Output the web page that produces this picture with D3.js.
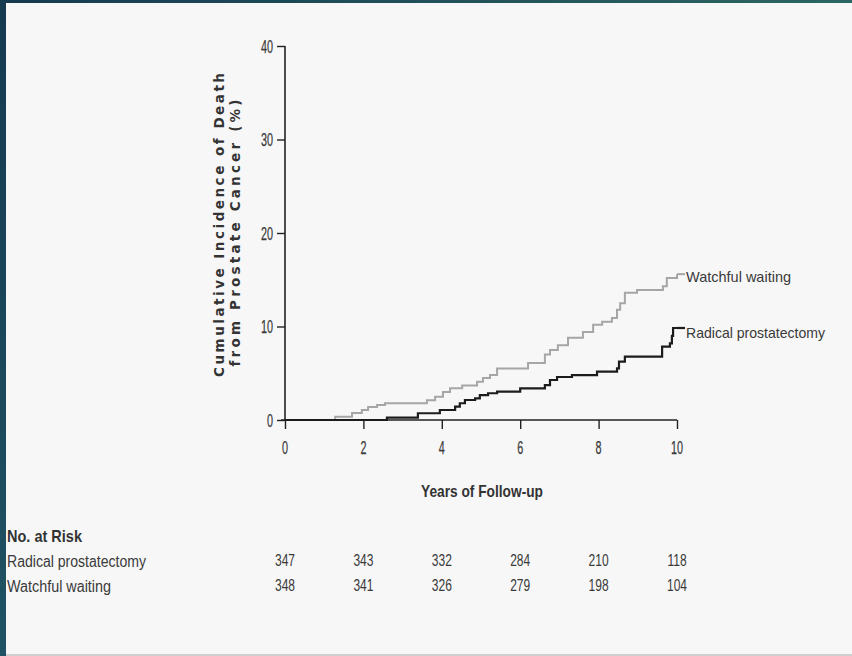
<!DOCTYPE html>
<html>
<head>
<meta charset="utf-8">
<script src="https://cdn.jsdelivr.net/npm/d3@7"></script>
<style>
  html, body { margin: 0; padding: 0; background: #1b4a5a; }
  svg { display: block; }
</style>
</head>
<body>
<svg id="chart" width="852" height="656"></svg>
<script>
// ---- Data ----
const xTicks = [0, 2, 4, 6, 8, 10];
const yTicks = [0, 10, 20, 30, 40];

const watchfulYears = [0, 1.28, 1.71, 1.96, 2.12, 2.35, 2.55, 3.62, 3.83, 4.03, 4.21, 4.52, 4.90, 5.05, 5.23, 5.41, 6.20, 6.63, 6.76, 6.96, 7.22, 7.60, 7.86, 8.09, 8.34, 8.47, 8.55, 8.67, 8.98, 9.64, 9.74, 10.0];
const watchfulPct   = [0, 0.35, 0.75, 1.07, 1.4, 1.6, 1.8, 2.1, 2.5, 3.0, 3.4, 3.7, 4.1, 4.5, 4.8, 5.5, 6.1, 7.0, 7.5, 8.0, 8.8, 9.4, 10.2, 10.5, 10.9, 11.8, 12.5, 13.6, 13.9, 14.3, 15.2, 15.6];

const radicalYears = [0, 2.60, 3.39, 3.95, 4.34, 4.46, 4.59, 4.85, 4.97, 5.18, 5.41, 6.00, 6.63, 6.76, 6.94, 7.32, 7.96, 8.47, 8.52, 8.67, 9.62, 9.82, 9.87, 9.90, 10.0];
const radicalPct   = [0, 0.25, 0.72, 1.07, 1.42, 1.79, 2.14, 2.32, 2.67, 2.86, 3.03, 3.39, 3.74, 4.28, 4.6, 4.81, 5.17, 5.53, 6.24, 6.77, 7.84, 8.2, 9.0, 9.84, 9.84];

const seriesNames = ["Radical prostatectomy", "Watchful waiting"];
const atRiskRadical  = [347, 343, 332, 284, 210, 118];
const atRiskWatchful = [348, 341, 326, 279, 198, 104];

// ---- Layout ----
const svg = d3.select("#chart");
const W = 852, H = 656;
const FONT = '"Liberation Sans", Arial, sans-serif';
const TXT = "#3a3a3a";

// condense text horizontally (the original uses a condensed typeface)
function condense(sel, factor) {
  sel.each(function () {
    const L = this.getComputedTextLength();
    d3.select(this).attr("textLength", L * factor).attr("lengthAdjust", "spacingAndGlyphs");
  });
}

const defs = svg.append("defs");
const grad = defs.append("linearGradient").attr("id", "frame").attr("x1", "0").attr("y1", "0").attr("x2", "1").attr("y2", "0");
grad.append("stop").attr("offset", "0").attr("stop-color", "#163a50");
grad.append("stop").attr("offset", "1").attr("stop-color", "#2c6763");
const gradV = defs.append("linearGradient").attr("id", "frameV").attr("x1", "0").attr("y1", "0").attr("x2", "0").attr("y2", "1");
gradV.append("stop").attr("offset", "0").attr("stop-color", "#163a50");
gradV.append("stop").attr("offset", "1").attr("stop-color", "#1f5363");

svg.append("rect").attr("width", W).attr("height", H).attr("fill", "url(#frame)");
svg.append("rect").attr("x", 0).attr("y", 0).attr("width", 7).attr("height", H).attr("fill", "url(#frameV)");
svg.append("rect").attr("x", 6).attr("y", 3).attr("width", W - 6).attr("height", H - 5).attr("fill", "#f7f7f7");
svg.append("rect").attr("x", 6).attr("y", H - 2).attr("width", W - 6).attr("height", 2).attr("fill", "#cfcfcf");

const x = d3.scaleLinear().domain([0, 10]).range([285, 677]);
const y = d3.scaleLinear().domain([0, 40]).range([420, 46]);

const g = svg.append("g");

// Axes (lines from d3 axis, labels drawn separately for font control)
const yAxis = g.append("g").attr("transform", `translate(${x(0)},0)`)
  .call(d3.axisLeft(y).tickValues(yTicks).tickSize(8).tickFormat(""));
const xAxis = g.append("g").attr("transform", `translate(0,${y(0)})`)
  .call(d3.axisBottom(x).tickValues(xTicks).tickSize(9).tickFormat(""));

[yAxis, xAxis].forEach(a => {
  a.select(".domain").attr("stroke", "#222").attr("stroke-width", 1.6);
  a.selectAll(".tick line").attr("stroke", "#222").attr("stroke-width", 1.4);
  a.selectAll(".tick text").remove();
});
xAxis.select(".domain").attr("d", `M${x(0) - 4},0H${x(10)}`);
yAxis.select(".domain").attr("d", `M0,${y(40)}H0V${y(0)}`);

const yLab = g.selectAll(".ylab").data(yTicks).enter().append("text")
  .attr("x", x(0) - 12).attr("y", d => y(d) + 6.5).attr("text-anchor", "end")
  .attr("fill", TXT).attr("stroke", TXT).attr("stroke-width", 0.25)
  .attr("font-family", FONT).attr("font-size", 18).text(d => d);
const xLab = g.selectAll(".xlab").data(xTicks).enter().append("text")
  .attr("x", d => x(d)).attr("y", y(0) + 34).attr("text-anchor", "middle")
  .attr("fill", TXT).attr("stroke", TXT).attr("stroke-width", 0.25)
  .attr("font-family", FONT).attr("font-size", 18).text(d => d);
condense(yLab, 0.6);
condense(xLab, 0.6);

// Curves
const line = d3.line().x(d => x(d[0])).y(d => y(d[1])).curve(d3.curveStepAfter);
const watchful = watchfulYears.map((v, i) => [v, watchfulPct[i]]);
const radical = radicalYears.map((v, i) => [v, radicalPct[i]]);

g.append("path").datum(watchful).attr("d", line)
  .attr("fill", "none").attr("stroke", "#a6a6a6").attr("stroke-width", 2);
g.append("path").datum(radical).attr("d", line)
  .attr("fill", "none").attr("stroke", "#1c1c1c").attr("stroke-width", 2.2);

// End labels with short connectors
const lastW = watchful[watchful.length - 1], lastR = radical[radical.length - 1];
g.append("line").attr("x1", x(lastW[0])).attr("x2", x(lastW[0]) + 8)
  .attr("y1", y(lastW[1])).attr("y2", y(lastW[1])).attr("stroke", "#a6a6a6").attr("stroke-width", 2);
g.append("line").attr("x1", x(lastR[0])).attr("x2", x(lastR[0]) + 8)
  .attr("y1", y(lastR[1])).attr("y2", y(lastR[1])).attr("stroke", "#1c1c1c").attr("stroke-width", 2.2);
g.append("text").attr("x", x(lastW[0]) + 9).attr("y", y(lastW[1]) + 8)
  .attr("font-family", FONT).attr("font-size", 15).attr("fill", TXT)
  .attr("textLength", 105).attr("lengthAdjust", "spacingAndGlyphs").text(seriesNames[1]);
g.append("text").attr("x", x(lastR[0]) + 9).attr("y", y(lastR[1]) + 10)
  .attr("font-family", FONT).attr("font-size", 15).attr("fill", TXT)
  .attr("textLength", 139).attr("lengthAdjust", "spacingAndGlyphs").text(seriesNames[0]);

// Axis titles
const TFONT = '"DejaVu Sans", Verdana, sans-serif';
g.append("text").attr("transform", `translate(224,225) rotate(-90)`)
  .attr("text-anchor", "middle").attr("font-weight", "bold").attr("fill", "#333")
  .attr("font-family", TFONT).attr("font-size", 13.5)
  .attr("textLength", 304).attr("lengthAdjust", "spacing")
  .text("Cumulative Incidence of Death");
g.append("text").attr("transform", `translate(240,233) rotate(-90)`)
  .attr("text-anchor", "middle").attr("font-weight", "bold").attr("fill", "#333")
  .attr("font-family", TFONT).attr("font-size", 13.5)
  .attr("textLength", 267).attr("lengthAdjust", "spacing")
  .text("from Prostate Cancer (%)");

g.append("text").attr("x", 482).attr("y", 497)
  .attr("text-anchor", "middle").attr("font-weight", "bold").attr("fill", "#333")
  .attr("font-family", FONT).attr("font-size", 17)
  .attr("textLength", 122).attr("lengthAdjust", "spacingAndGlyphs")
  .text("Years of Follow-up");

// At-risk table
g.append("text").attr("x", 7).attr("y", 542).attr("font-weight", "bold").attr("fill", "#333")
  .attr("font-family", FONT).attr("font-size", 17)
  .attr("textLength", 75).attr("lengthAdjust", "spacingAndGlyphs").text("No. at Risk");
g.append("text").attr("x", 7).attr("y", 567).attr("fill", TXT)
  .attr("font-family", FONT).attr("font-size", 16)
  .attr("textLength", 139).attr("lengthAdjust", "spacingAndGlyphs").text(seriesNames[0]);
g.append("text").attr("x", 7).attr("y", 592).attr("fill", TXT)
  .attr("font-family", FONT).attr("font-size", 16)
  .attr("textLength", 104).attr("lengthAdjust", "spacingAndGlyphs").text(seriesNames[1]);

const rR = g.selectAll(".riskR").data(atRiskRadical).enter().append("text")
  .attr("x", (d, i) => x(xTicks[i])).attr("y", 566).attr("text-anchor", "middle")
  .attr("font-family", FONT).attr("font-size", 16).attr("fill", TXT).text(d => d);
const rW = g.selectAll(".riskW").data(atRiskWatchful).enter().append("text")
  .attr("x", (d, i) => x(xTicks[i])).attr("y", 591).attr("text-anchor", "middle")
  .attr("font-family", FONT).attr("font-size", 16).attr("fill", TXT).text(d => d);
condense(rR, 0.75);
condense(rW, 0.75);
</script>
</body>
</html>
